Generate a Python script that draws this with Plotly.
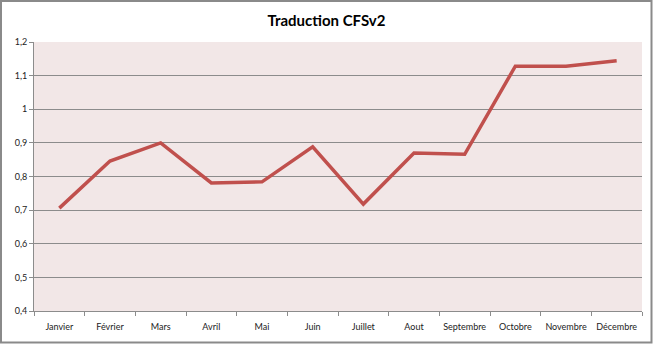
import plotly.graph_objects as go

months = ["Janvier", "Février", "Mars", "Avril", "Mai", "Juin", "Juillet",
          "Aout", "Septembre", "Octobre", "Novembre", "Décembre"]
values = [0.706, 0.846, 0.900, 0.781, 0.784, 0.888, 0.718,
          0.870, 0.866, 1.128, 1.128, 1.144]
y_ticks = [0.4, 0.5, 0.6, 0.7, 0.8, 0.9, 1.0, 1.1, 1.2]
y_labels = ["0,4", "0,5", "0,6", "0,7", "0,8", "0,9", "1", "1,1", "1,2"]

W, H = 653, 344
ml, mr, mt, mb = 34, 11, 42, 33
pw, ph = W - ml - mr, H - mt - mb

fig = go.Figure()
fig.add_trace(go.Scatter(
    x=months, y=values, mode="lines",
    line=dict(color="#C0504D", width=3.5),
    hoverinfo="skip", showlegend=False,
))

fig.update_layout(
    width=W, height=H,
    margin=dict(l=ml, r=mr, t=mt, b=mb, pad=0, autoexpand=False),
    paper_bgcolor="white",
    plot_bgcolor="#F2E7E7",
    font=dict(family="Lato, Open Sans, sans-serif", size=9, color="#222222"),
    title=dict(text="<b>Traduction CFSv2</b>", x=0.5, xanchor="center",
               y=1 - 21 / H, yanchor="middle",
               font=dict(family="Lato, Open Sans, sans-serif", size=15, color="#000000")),
    xaxis=dict(
        type="category", range=[-0.5, 11.5],
        showgrid=False, showline=True, linecolor="#8C8C8C", linewidth=1,
        ticks="outside", tickson="boundaries", ticklen=4, tickcolor="#8C8C8C",
        tickangle=0, automargin=False, ticklabelstandoff=7,
        tickfont=dict(size=9), fixedrange=True,
    ),
    yaxis=dict(
        range=[0.4, 1.2], tickvals=y_ticks, ticktext=y_labels,
        showgrid=True, gridcolor="#8C8C8C", gridwidth=1,
        showline=True, linecolor="#8C8C8C", linewidth=1,
        ticks="outside", ticklen=4, tickcolor="#8C8C8C", automargin=False,
        tickfont=dict(size=9), zeroline=False, fixedrange=True,
    ),
    shapes=[dict(
        type="rect", xref="paper", yref="paper", layer="above",
        x0=(1 - ml) / pw, x1=(W - 1.5 - ml) / pw,
        y0=-(H - 1.5 - mt - ph) / ph, y1=(mt + ph - 1) / ph,
        line=dict(color="#8A8A8A", width=2),
    )],
)

fig.write_html("out.html")
